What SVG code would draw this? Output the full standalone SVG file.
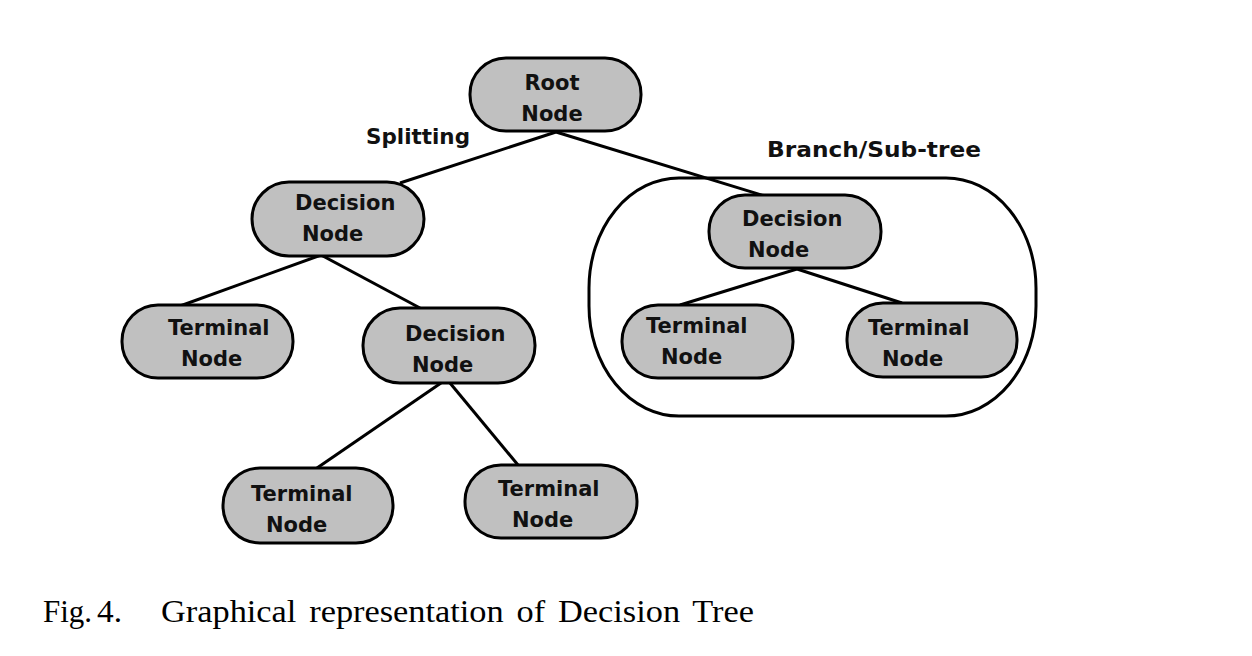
<svg xmlns="http://www.w3.org/2000/svg" width="1252" height="656" viewBox="0 0 1252 656">
<style>
.n{fill:#c0c0c0;stroke:#000;stroke-width:3}
.t{font-family:"DejaVu Sans",Verdana,sans-serif;font-weight:bold;font-size:21px;fill:#111}
.l{font-family:"DejaVu Sans",Verdana,sans-serif;font-weight:bold;font-size:22px;fill:#111}
.c{stroke:#000;stroke-width:3;fill:none}
.cap{font-family:"Liberation Serif","Times New Roman",serif;font-size:32px;fill:#000}
</style>
<rect width="1252" height="656" fill="#fff"/>
<g id="subtree">
<rect x="589" y="178" width="447" height="238" rx="90" ry="110" class="c"/>
</g>
<g id="connectors">
<line x1="556" y1="132" x2="400" y2="183" class="c"/>
<line x1="556" y1="132" x2="765" y2="196" class="c"/>
<line x1="321" y1="255" x2="180" y2="306" class="c"/>
<line x1="321" y1="255" x2="420" y2="308" class="c"/>
<line x1="441" y1="383" x2="317" y2="468" class="c"/>
<line x1="450" y1="383" x2="518" y2="465" class="c"/>
<line x1="797" y1="269" x2="680" y2="305" class="c"/>
<line x1="797" y1="269" x2="902" y2="303" class="c"/>
</g>
<g id="root">
<rect x="470" y="58" width="171" height="73" rx="36" class="n"/>
<text class="t" x="552" y="90" text-anchor="middle">Root</text>
<text class="t" x="552" y="121" text-anchor="middle">Node</text>
</g>
<g id="decision1">
<rect x="252" y="182" width="172" height="74" rx="37" class="n"/>
<text class="t" x="295" y="210">Decision</text>
<text class="t" x="302" y="241">Node</text>
</g>
<g id="decision2">
<rect x="709" y="195" width="172" height="73" rx="36" class="n"/>
<text class="t" x="742" y="226">Decision</text>
<text class="t" x="748" y="257">Node</text>
</g>
<g id="terminal1">
<rect x="122" y="305" width="171" height="73" rx="36" class="n"/>
<text class="t" x="168" y="335">Terminal</text>
<text class="t" x="181" y="366">Node</text>
</g>
<g id="decision3">
<rect x="363" y="308" width="172" height="75" rx="37" class="n"/>
<text class="t" x="405" y="341">Decision</text>
<text class="t" x="412" y="372">Node</text>
</g>
<g id="terminal2">
<rect x="622" y="305" width="171" height="73" rx="36" class="n"/>
<text class="t" x="646" y="333">Terminal</text>
<text class="t" x="661" y="364">Node</text>
</g>
<g id="terminal3">
<rect x="847" y="303" width="170" height="74" rx="36" class="n"/>
<text class="t" x="868" y="335">Terminal</text>
<text class="t" x="882" y="366">Node</text>
</g>
<g id="terminal4">
<rect x="223" y="468" width="170" height="75" rx="37" class="n"/>
<text class="t" x="251" y="501">Terminal</text>
<text class="t" x="266" y="532">Node</text>
</g>
<g id="terminal5">
<rect x="465" y="465" width="172" height="73" rx="36" class="n"/>
<text class="t" x="498" y="496">Terminal</text>
<text class="t" x="512" y="527">Node</text>
</g>
<g id="labels">
<text class="l" x="366" y="144" textLength="104" lengthAdjust="spacingAndGlyphs">Splitting</text>
<text class="l" x="767" y="157" textLength="214" lengthAdjust="spacingAndGlyphs">Branch/Sub-tree</text>
</g>
<g id="caption">
<text class="cap" x="43" y="622" textLength="49" lengthAdjust="spacingAndGlyphs">Fig.</text>
<text class="cap" x="97" y="622" textLength="25" lengthAdjust="spacingAndGlyphs">4.</text>
<text class="cap" x="161" y="622" word-spacing="4" textLength="593" lengthAdjust="spacingAndGlyphs">Graphical representation of Decision Tree</text>
</g>
</svg>
